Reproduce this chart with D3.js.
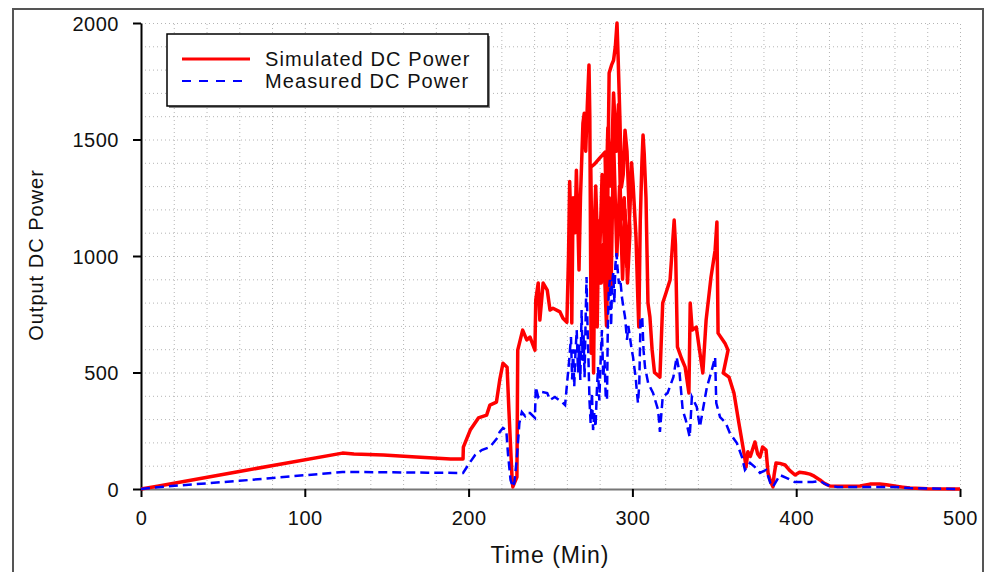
<!DOCTYPE html>
<html>
<head>
<meta charset="utf-8">
<script src="https://cdn.jsdelivr.net/npm/d3@7"></script>
<style>
  body { margin: 0; background: #fff; }
  svg { display: block; font-family: Arial, "Liberation Sans", sans-serif; }
</style>
</head>
<body>
<svg id="chart" width="987" height="572"></svg>
<script>
// series names
var seriesNames = ["Simulated DC Power", "Measured DC Power"];

// tick values
var xTicks = [0, 100, 200, 300, 400, 500];
var yTicks = [0, 500, 1000, 1500, 2000];

// [time (min), power] - the logger data is not sorted so time goes back sometimes
var simulatedDC = [
  [0,0],[10,12],[60,75],[123,154],[130,150],[148,146],[168,137],[189,129],[196.6,129],
  [196.8,180],[201,253],[206,305],[211,317],[213,360],[217,373],[219,468],[221,540],
  [223.5,523],[224.6,339],[226.5,51],[227,9],[229.5,51],[230,596],[233,682],[235.5,640],
  [237.5,652],[240.5,596],[241,811],[242.5,884],[243.5,725],[245.5,884],[248,854],
  [249.7,768],[251.5,776],[255.8,760],[257.6,733],[260,716],
  [261,1000],[261.7,1320],[262.5,1100],[263,712],[263.8,1250],[265,1100],[265.8,1368],
  [266.7,1150],[267.4,940],[268.3,1250],[269.8,1570],[270.6,1613],[271.5,1450],[272.5,1650],
  [273.5,1820],[274,1600],[274.4,1100],[274.8,583],[275.3,1000],[274.6,1381],[277,1395],
  [280,1420],[283.3,1446],[284,1200],[284.5,867],[285.3,1500],[285.8,1785],[287.3,1820],
  [288.5,1840],[289.6,1900],[290.6,2000],[291.3,1850],[292.4,1583],[293.3,1295],
  [294.4,1350],[295.5,1540],[296.7,1450],[297.5,1295],[298.5,1100],
  [297,884],[295.5,1200],[294,900],[292.2,1300],[290.5,1000],[288.5,1500],[287,867],
  [285.8,1250],[284.2,700],[282.3,1050],[281,884],[279.5,1150],[278.5,695],[277.2,1150],
  [276.3,498],[275.6,900],[277.6,1300],[279.5,884],[281.5,1350],[283,1000],[285,1550],
  [286.8,1300],[288.5,1700],[290.2,1450],[291.5,1650],[293,1150],[295,1250],[296.6,950],
  [298.5,1200],[299.5,1400],[300.4,1312],[302.2,1081],[303.4,798],[303.9,695],[304.8,1150],
  [305.8,1400],[306.5,1519],[307.2,1441],[308.3,1250],[309.5,798],[310.7,738],[312,600],
  [313.5,500],[316.8,480],[318.5,798],[320.5,841],[323,897],[325.5,1154],[326.3,1050],
  [327.5,610],[330,560],[332.2,523],[334.5,412],[335.3,798],[336.5,682],[339,695],[341,596],
  [343,498],[345,725],[348,910],[350.5,1025],[351.6,1146],[352.3,669],[356.5,626],
  [358.4,596],[355.5,498],[359,480],[362,412],[365,283],[367.5,180],[368.5,137],[369.4,94],
  [370.5,160],[372,140],[374.8,202],[376.5,150],[377.9,137],[379.5,180],[381.6,167],
  [382.8,69],[384.5,30],[385.8,9],[386.5,60],[387.7,112],[390,110],[393.2,103],[396,80],
  [399.3,60],[402,72],[405.4,69],[408.4,64],[411,55],[414.5,39],[417,25],[420.6,13],
  [430,12],[439,13],[445,21],[451,21],[455,18],[460,13],[465,8],[469.5,4],[480,1],[500,0]
];

var measuredDC = [
  [0,0],[10,8],[60,35],[123,73],[150,72],[175,70],[196.6,69],[201,116],[204,146],[208,167],
  [213,180],[217.5,219],[219,245],[221,262],[223,253],[224,154],[225.6,39],[227,9],[228,30],
  [229.5,137],[231,283],[232.5,330],[234.5,313],[235.5,326],[237.5,326],[240.5,305],
  [241,438],[242.5,395],[244.8,416],[248,412],[249.7,382],[252.7,395],[257,373],[258.9,360],
  [260.7,498],[261.5,560],[262.5,652],[263.2,470],[263.8,600],[264.5,440],[265.2,580],
  [266,682],[266.8,500],[267.5,620],[268.2,468],[269,768],[269.6,550],[270.2,660],[270.8,480],
  [271.5,750],[272,910],[272.6,700],[273.2,550],[273.8,380],[274.5,283],[275.3,412],[276,253],
  [276.8,330],[277.5,266],[278.3,420],[279,523],[279.8,380],[280.6,550],[281.4,682],
  [282.2,480],[283,553],[283.7,400],[284.5,382],[285,700],[285.6,854],[286.3,897],[287,700],
  [287.6,880],[288.3,927],[289,800],[289.6,960],[290.3,1012],[291,940],[291.8,880],
  [292.6,900],[293.6,824],[294.5,780],[295.5,738],[296.7,640],[297.5,700],[298.5,652],
  [299.5,600],[300.4,566],[301.2,520],[302,480],[302.7,420],[303.4,369],[304.2,450],
  [305,738],[306,738],[306.8,596],[307.7,523],[309.6,455],[312.6,412],[315.7,339],
  [316.8,245],[318.5,395],[321.5,412],[325,480],[327,566],[328.8,498],[330.7,339],
  [332.6,296],[335,223],[336.3,395],[339.3,352],[341.2,266],[343,339],[345.5,438],
  [348,498],[350.5,566],[351.2,369],[353.5,309],[357,283],[359.5,240],[363.8,197],
  [366.9,137],[368.7,82],[371.8,112],[374.8,94],[377.9,69],[381.6,82],[384.2,26],
  [385.8,9],[390,60],[394.3,47],[399,30],[405,30],[410,30],[414.5,34],[418.9,17],
  [425,9],[440,9],[460,9],[469.5,4],[480,2],[500,0]
];

var svg = d3.select("#chart");

var x = d3.scaleLinear().domain([0, 500]).range([141, 960]);
var y = d3.scaleLinear().domain([0, 2000]).range([489, 23]);

// outer frame
svg.append("rect")
  .attr("x", 13).attr("y", 9).attr("width", 970).attr("height", 600)
  .attr("fill", "none").attr("stroke", "#555").attr("stroke-width", 2);

// dotted grid, minor steps
var grid = svg.append("g").attr("stroke", "#b4b4b4").attr("stroke-width", 1)
  .attr("stroke-dasharray", "1,3");
grid.selectAll("line.h")
  .data(d3.range(100, 2001, 100))
  .enter().append("line")
  .attr("x1", x(0)).attr("x2", x(500))
  .attr("y1", function(d) { return y(d) + 0.5; })
  .attr("y2", function(d) { return y(d) + 0.5; });
grid.selectAll("line.v")
  .data(d3.range(20, 501, 20))
  .enter().append("line")
  .attr("y1", y(0)).attr("y2", y(2000))
  .attr("x1", function(d) { return x(d) + 0.5; })
  .attr("x2", function(d) { return x(d) + 0.5; });

// axes
var xAxis = svg.append("g")
  .attr("transform", "translate(0," + y(0) + ")")
  .call(d3.axisBottom(x).tickValues(xTicks).tickFormat(d3.format("d"))
    .tickSize(8).tickPadding(14).tickSizeOuter(0));
xAxis.select(".domain").attr("stroke", "#777").attr("stroke-width", 2);
xAxis.selectAll(".tick line").attr("stroke", "#000").attr("stroke-width", 2);

var yAxis = svg.append("g")
  .attr("transform", "translate(" + x(0) + ",0)")
  .call(d3.axisLeft(y).tickValues(yTicks).tickFormat(d3.format("d"))
    .tickSize(8).tickPadding(14).tickSizeOuter(0));
yAxis.select(".domain").attr("stroke", "#000").attr("stroke-width", 2);
yAxis.selectAll(".tick line").attr("stroke", "#000").attr("stroke-width", 2);

svg.selectAll(".tick text")
  .attr("font-size", 20).attr("fill", "#111")
  .attr("font-family", "Arial, 'Liberation Sans', sans-serif")
  .style("letter-spacing", "0.5px");
yAxis.selectAll(".tick text").attr("dy", "0.36em");

// lines
var line = d3.line()
  .x(function(d) { return x(d[0]); })
  .y(function(d) { return y(d[1]); });

svg.append("path")
  .datum(simulatedDC)
  .attr("d", line)
  .attr("fill", "none")
  .attr("stroke", "#ff0000")
  .attr("stroke-width", 3.5)
  .attr("stroke-linejoin", "round");

svg.append("path")
  .datum(measuredDC)
  .attr("d", line)
  .attr("fill", "none")
  .attr("stroke", "#0000ff")
  .attr("stroke-width", 2.5)
  .attr("stroke-dasharray", "9,5");

// axis titles
svg.append("text")
  .attr("x", 550).attr("y", 563)
  .attr("text-anchor", "middle")
  .attr("font-size", 23)
  .style("letter-spacing", "1px")
  .attr("fill", "#111")
  .text("Time (Min)");

svg.append("text")
  .attr("transform", "translate(43,255) rotate(-90)")
  .attr("text-anchor", "middle")
  .attr("font-size", 20)
  .style("letter-spacing", "1px")
  .attr("fill", "#111")
  .text("Output DC Power");

// legend
var legend = svg.append("g");
legend.append("rect")
  .attr("x", 169).attr("y", 36).attr("width", 321).attr("height", 72)
  .attr("fill", "#888");
legend.append("rect")
  .attr("x", 167).attr("y", 34).attr("width", 321).attr("height", 72)
  .attr("fill", "#fff").attr("stroke", "#000").attr("stroke-width", 1.5);

var legendColors = ["#ff0000", "#0000ff"];
var legendDash = [null, "9,8"];
seriesNames.forEach(function(name, i) {
  var ly = 59 + i * 22;
  legend.append("line")
    .attr("x1", 182).attr("x2", i === 0 ? 250 : 244)
    .attr("y1", ly).attr("y2", ly)
    .attr("stroke", legendColors[i])
    .attr("stroke-width", i === 0 ? 3 : 2)
    .attr("stroke-dasharray", legendDash[i]);
  legend.append("text")
    .attr("x", 265).attr("y", ly + 7)
    .attr("font-size", 20)
    .style("letter-spacing", "1.1px")
    .attr("fill", "#111")
    .text(name);
});
</script>
</body>
</html>
